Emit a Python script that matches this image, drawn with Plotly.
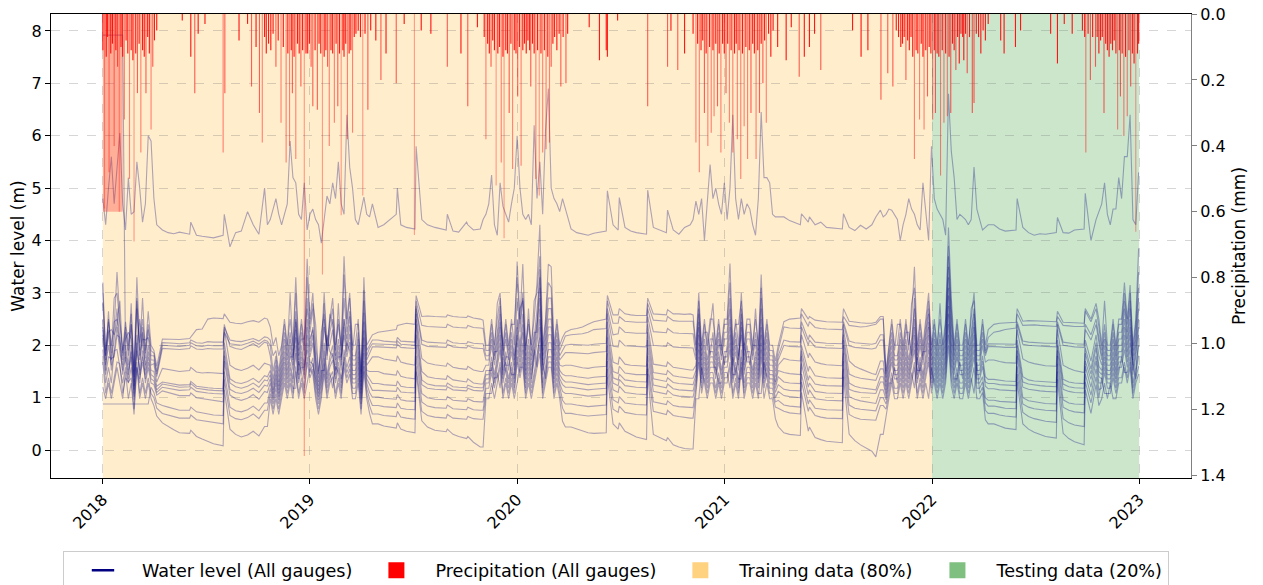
import numpy as np
import pandas as pd
import plotly.graph_objects as go

BASE_DATE = pd.Timestamp("2018-01-01")
SPLIT_DATE = pd.Timestamp("2022-01-01")
END_DATE = pd.Timestamp("2023-01-01")
YEAR_TICKS = [2018, 2019, 2020, 2021, 2022, 2023]
WL_TICKS = [0, 1, 2, 3, 4, 5, 6, 7, 8]
P_TICKS = [0.0, 0.2, 0.4, 0.6, 0.8, 1.0, 1.2, 1.4]

# Sample days (after BASE_DATE) of the gauge records, one list per season:
# wet seasons every 5 days, dry seasons every ~10 days plus the day before each event.
SEGMENT_DAYS = [
    list(range(0, 96, 5)),
    [105, 115, 125, 135, 153, 155, 165, 175, 185, 195, 212, 214, 224, 234, 244, 255, 265, 275, 285],
    list(range(290, 476, 5)),
    [485, 495, 517, 519, 525, 535, 550, 552, 562, 572, 585, 605, 607, 617, 627, 641, 643, 653, 665],
    list(range(670, 816, 5)),
    [825, 835, 845, 855, 865, 887, 889, 899, 908, 910, 920, 930, 940, 958, 960, 970, 993, 995, 1005, 1015, 1025, 1035],
    list(range(1040, 1191, 5)),
    [1200, 1210, 1229, 1231, 1243, 1245, 1255, 1265, 1275, 1303, 1305, 1315, 1325, 1335, 1345, 1355, 1362, 1370],
    list(range(1375, 1561, 5)),
    [1570, 1580, 1590, 1609, 1611, 1621, 1631, 1641, 1651, 1661, 1680, 1682, 1692, 1702, 1712, 1729, 1731, 1741, 1750],
    list(range(1755, 1826, 5)),
]

# Water level per gauge, in cm, one list per season above.
G01 = [
    [320,180,250,200,235,340,250,190,245,200,260,150,330,205,250,190,265,200,190,160],
    [212,212,211,211,213,216,230,231,250,252,251,260,244,242,241,245,247,244,252],
    [250,235,200,215,180,200,250,200,250,200,330,200,250,200,365,250,300,200,150,200,300,200,250,290,200,250,200,370,250,300,200,200,250,150,330,200,210,220],
    [225,227,230,238,240,242,240,295,255,256,255,254,258,255,254,253,256,252,250],
    [248,200,200,250,200,250,290,200,250,200,250,200,360,250,355,200,250,200,250,320,430,200,250,355,350,200,250,200,215,225],
    [230,232,235,240,245,250,295,258,258,270,260,258,257,257,290,260,258,268,260,260,259,260],
    [258,200,300,200,250,200,250,250,200,250,200,250,250,356,200,250,200,300,200,250,250,200,250,200,335,200,250,200,200,170,200],
    [245,250,252,270,250,255,248,246,245,244,270,246,244,243,242,242,244,255],
    [255,150,200,250,200,200,250,200,250,200,250,350,200,250,200,250,300,200,250,200,250,200,250,425,290,200,250,200,200,250,200,250,300,200,200,250,200,230],
    [240,242,243,244,270,246,247,247,246,246,245,265,244,243,243,242,270,250,280],
    [250,200,285,200,200,250,200,250,250,320,250,315,200,250,385],
]
G02 = [
    [300,190,245,185,290,300,240,185,235,190,240,145,290,190,290,185,240,190,185,150],
    [205,205,204,203,205,210,205,204,207,206,206,235,210,208,207,210,213,208,216],
    [215,210,180,190,150,190,240,190,300,190,300,190,240,190,330,240,280,240,145,190,280,190,240,270,190,240,190,335,240,290,190,240,240,145,305,190,200,210],
    [210,208,206,215,208,207,206,285,238,236,235,234,240,235,234,233,238,234,233],
    [232,190,190,240,190,280,300,190,240,190,240,240,330,240,300,190,240,190,285,300,370,190,240,320,310,190,240,190,205,218],
    [220,221,222,225,230,232,285,242,242,255,246,245,244,244,280,248,246,255,247,246,246,246],
    [246,190,285,190,240,190,240,280,190,240,190,240,240,320,190,240,240,285,190,240,240,190,270,190,310,190,240,190,190,160,190],
    [235,233,232,260,236,245,234,232,231,230,255,238,236,235,236,238,240,250],
    [250,145,190,240,190,240,240,190,240,190,280,310,190,240,190,240,285,190,240,190,280,190,240,390,270,190,240,190,190,240,190,270,285,190,190,240,190,215],
    [225,227,230,233,260,238,239,239,238,237,236,255,238,237,236,236,265,245,270],
    [235,190,240,190,190,240,190,240,240,300,240,300,190,240,340],
]
G03 = [
    [280,180,225,230,220,240,285,180,225,180,280,140,285,180,225,175,230,180,180,145],
    [200,199,199,198,200,205,199,198,200,199,199,225,203,201,200,204,208,202,210],
    [208,200,150,180,140,180,225,180,225,180,250,180,225,180,290,225,270,180,138,225,260,180,225,250,180,280,180,290,225,265,180,180,225,138,285,180,195,203],
    [203,202,201,208,202,201,200,275,210,206,205,204,210,205,204,203,207,204,203],
    [203,180,180,225,180,225,275,180,225,180,225,180,290,225,290,180,270,180,225,225,345,180,225,290,290,180,225,180,190,200],
    [202,201,200,200,202,204,270,220,222,235,225,224,223,223,270,226,224,232,224,223,223,223],
    [222,180,270,180,225,225,180,225,180,225,180,225,225,290,180,225,180,270,180,225,225,180,225,180,290,180,225,180,180,150,180],
    [210,207,206,245,210,220,206,205,204,203,245,208,205,204,203,202,204,220],
    [220,138,180,225,180,180,225,180,225,225,180,290,180,225,180,225,270,180,225,180,225,180,225,370,255,180,225,180,180,225,180,225,270,180,180,225,185,203],
    [203,202,202,202,245,208,206,205,205,204,204,245,206,204,203,202,240,220,250],
    [215,180,225,180,180,225,180,225,225,285,225,285,180,225,310],
]
G04 = [
    [230,172,265,172,212,270,212,172,212,225,212,130,270,172,212,210,215,172,172,140],
    [194,193,193,192,194,199,193,192,194,193,193,240,198,194,192,197,203,196,206],
    [204,180,135,172,130,172,212,172,212,172,265,172,212,212,270,212,230,172,130,172,250,172,260,240,172,212,172,250,212,255,172,172,212,130,262,172,185,197],
    [197,196,195,202,196,195,194,270,202,198,197,196,202,197,196,195,199,195,194],
    [194,172,172,212,172,212,260,172,212,172,212,172,212,270,285,172,212,172,212,268,330,172,212,270,270,172,212,172,180,186],
    [186,185,184,184,186,188,260,198,197,210,199,198,198,197,255,200,198,205,197,196,196,195],
    [195,172,260,172,212,172,212,212,172,212,172,212,212,270,172,212,172,260,172,212,212,172,212,172,270,172,212,172,172,140,172],
    [200,198,197,235,200,210,197,196,195,194,240,199,196,195,194,193,195,210],
    [210,130,172,212,172,172,212,172,212,172,212,270,172,212,172,212,260,172,212,172,212,172,212,350,242,172,212,172,172,212,172,212,260,172,172,212,180,198],
    [198,197,196,196,240,202,200,199,198,198,197,240,200,198,197,196,230,210,240],
    [205,172,212,172,172,212,172,212,212,270,212,270,172,212,290],
]
G05 = [
    [250,162,200,162,245,250,200,162,200,162,240,122,200,250,200,162,200,162,165,130],
    [156,154,152,150,152,158,149,147,148,147,146,230,162,155,152,156,162,153,166],
    [164,162,125,162,122,162,200,162,200,162,245,162,200,162,250,200,235,162,122,162,235,200,200,230,162,200,162,250,200,238,162,162,200,122,245,162,170,178],
    [178,174,170,180,168,165,162,260,175,166,163,160,166,158,156,154,160,153,150],
    [150,162,162,200,162,200,245,200,162,162,200,162,250,200,260,162,200,162,200,245,310,162,200,250,250,162,200,162,160,162],
    [162,159,157,156,158,160,245,168,164,178,164,162,161,160,240,164,160,168,158,156,155,153],
    [153,162,245,162,200,162,200,200,162,200,200,162,200,250,162,200,162,245,162,200,162,200,200,162,250,162,200,162,162,130,162],
    [175,172,170,220,176,185,168,165,163,161,230,170,160,155,150,146,144,170],
    [170,122,162,200,162,162,200,162,200,162,200,250,162,200,162,200,245,162,200,162,200,162,200,330,222,162,200,162,162,200,162,200,245,162,162,200,168,172],
    [172,169,167,166,230,174,168,165,163,161,160,230,162,156,152,148,210,170,220],
    [180,162,200,162,162,200,162,200,200,250,200,250,162,200,270],
]
G06 = [
    [235,152,230,152,188,235,188,152,188,152,188,115,190,152,235,152,188,152,150,122],
    [130,128,126,124,125,131,122,120,119,118,117,205,136,129,127,131,137,129,142],
    [140,152,115,152,115,152,188,152,188,152,230,152,188,152,235,188,220,152,115,152,152,220,188,180,152,188,152,235,188,222,152,152,188,115,228,152,150,150],
    [150,146,143,152,141,138,136,250,150,140,137,135,142,134,132,130,136,128,126],
    [126,152,152,152,188,188,235,152,188,152,188,152,235,188,240,152,188,152,188,235,290,152,188,235,235,152,188,152,145,142],
    [142,140,138,137,139,141,230,150,146,160,147,145,144,144,225,148,144,152,142,140,138,137],
    [137,152,235,152,188,152,188,188,152,188,152,188,188,235,152,188,152,235,152,188,188,152,188,152,235,152,188,152,152,125,152],
    [148,146,144,200,150,160,142,140,138,137,220,145,140,137,135,134,133,155],
    [155,115,152,188,152,152,188,152,188,152,188,235,152,152,188,188,235,152,188,152,188,152,188,310,205,152,188,152,152,188,152,188,235,152,152,180,140,135],
    [135,133,132,131,210,140,134,132,131,130,129,210,135,130,128,127,195,155,205],
    [160,152,188,152,152,188,152,188,188,235,188,235,152,188,250],
]
G07 = [
    [220,144,178,175,178,220,215,144,178,144,178,108,220,144,178,144,178,144,140,115],
    [126,124,122,120,121,127,118,116,115,114,113,190,128,121,118,122,128,120,134],
    [132,144,108,144,108,144,178,144,178,178,215,144,178,144,220,178,205,144,108,144,205,144,178,200,144,178,178,220,178,206,144,144,178,108,215,144,135,127],
    [127,125,123,132,122,120,119,240,134,126,123,122,128,121,120,119,124,120,119],
    [119,144,144,178,144,178,220,144,178,178,144,144,220,178,225,144,178,144,178,220,270,144,178,220,220,144,178,144,135,130],
    [130,128,126,125,126,128,215,138,134,145,134,132,131,130,210,136,131,138,129,127,126,125],
    [125,144,220,144,178,144,178,178,144,178,144,178,178,220,144,144,178,220,144,178,178,144,178,144,220,144,178,144,144,118,140],
    [130,128,127,190,133,142,126,124,123,122,210,128,122,119,117,116,115,140],
    [140,108,144,178,144,144,178,144,178,144,178,220,144,178,144,178,220,144,178,144,178,144,178,295,190,144,178,144,144,178,144,178,220,144,144,170,130,127],
    [127,125,124,123,200,130,126,124,123,122,121,200,126,121,119,118,185,145,195],
    [150,144,178,144,144,178,144,178,178,220,178,220,144,178,235],
]
G08 = [
    [792,792,792,792,792,792,792,792,168,136,200,102,205,136,168,136,168,136,132,110],
    [120,118,116,114,115,120,112,110,109,108,107,180,116,110,108,112,118,110,124],
    [122,136,102,136,102,136,168,136,168,136,200,136,168,136,205,168,165,136,102,136,190,136,168,185,136,168,136,168,205,190,136,136,168,102,200,136,125,114],
    [114,113,112,120,111,110,109,220,125,118,116,115,121,115,114,113,118,114,113],
    [113,136,136,168,136,168,205,136,168,136,168,136,205,168,205,136,168,136,168,205,250,168,136,205,205,136,168,136,125,120],
    [120,118,116,115,116,118,200,128,123,135,123,121,120,119,195,124,119,126,117,115,114,113],
    [113,136,205,136,168,136,168,168,136,168,136,168,168,205,136,168,136,136,205,168,168,136,168,136,205,136,168,136,136,110,125],
    [116,114,113,180,120,128,112,110,109,108,200,116,112,110,109,108,108,130],
    [130,102,136,168,136,136,168,136,168,136,168,205,136,168,136,168,205,136,168,136,168,136,168,275,175,136,136,168,136,168,136,168,205,136,136,160,122,117],
    [117,115,114,113,190,120,116,114,113,112,111,190,116,112,110,109,170,135,180],
    [140,136,168,136,136,168,136,168,168,205,168,205,168,136,220],
]
G09 = [
    [192,128,158,128,190,192,158,128,158,128,158,96,158,128,190,128,158,128,125,105],
    [113,110,107,104,104,109,100,98,96,94,92,170,105,98,95,99,106,97,112],
    [110,128,96,128,96,128,158,128,158,128,185,128,158,158,192,158,176,128,96,128,176,128,158,172,128,158,128,192,158,178,128,128,158,96,185,128,110,101],
    [101,99,97,106,96,94,93,200,108,100,97,96,102,95,94,93,98,93,92],
    [92,128,128,158,128,158,192,128,158,128,158,128,192,158,192,128,158,128,192,158,235,128,158,192,192,128,158,128,112,108],
    [108,106,104,103,104,106,185,115,110,122,110,108,107,106,180,112,107,114,105,103,102,101],
    [101,128,192,128,158,128,158,158,158,128,128,158,158,192,128,158,128,192,128,158,158,128,158,128,192,128,158,128,128,100,112],
    [104,102,100,165,106,115,98,96,95,94,185,102,97,94,92,90,89,115],
    [115,96,128,128,158,128,158,128,158,128,158,192,128,158,128,158,192,128,158,128,158,128,158,260,162,128,158,128,128,158,128,158,192,128,128,140,100,95],
    [95,93,92,91,180,100,94,92,90,89,88,180,96,90,88,87,160,120,170],
    [128,128,158,128,128,158,128,158,158,192,158,192,128,158,200],
]
G10 = [
    [88,88,88,88,88,88,88,88,88,88,88,88,88,88,88,88,88,120,110,90],
    [85,82,79,76,76,82,73,71,69,67,66,150,82,75,73,77,84,75,90],
    [90,118,88,118,88,118,148,118,148,118,118,170,148,118,178,148,165,118,88,118,165,118,148,118,160,148,118,178,148,165,118,118,148,88,170,118,98,85],
    [85,83,81,90,80,78,77,180,92,84,81,80,86,79,78,77,82,77,76],
    [76,118,118,148,118,148,118,178,148,118,148,118,178,148,178,118,148,118,148,178,215,118,148,178,178,118,148,118,95,88],
    [88,86,84,83,84,86,170,96,90,102,90,88,87,86,165,92,87,94,85,83,82,81],
    [81,118,178,118,148,118,148,148,118,148,118,148,148,118,178,148,118,178,118,148,148,118,148,118,178,118,148,118,118,92,95],
    [86,84,82,145,88,96,80,78,77,76,170,86,80,78,77,76,75,100],
    [100,88,118,148,118,118,148,118,148,118,148,118,178,148,118,148,178,118,148,118,148,118,148,240,148,118,148,118,118,148,118,148,178,118,118,130,90,84],
    [84,82,80,79,160,88,82,79,77,76,75,165,82,76,73,71,145,105,155],
    [115,118,148,118,118,148,118,148,178,148,148,178,118,148,180],
]
G11 = [
    [168,108,138,108,138,168,165,108,138,130,138,78,168,108,138,108,138,108,100,80],
    [70,67,64,61,61,67,58,56,54,52,50,135,66,60,58,62,69,60,76],
    [76,108,78,108,78,108,138,108,138,108,160,108,138,108,168,138,155,108,78,108,155,108,138,150,108,138,108,168,138,155,108,108,138,78,160,108,85,69],
    [69,66,64,74,63,61,59,160,74,66,63,61,68,61,60,59,64,60,59],
    [59,108,108,108,138,138,168,108,138,108,138,108,168,138,168,108,138,108,138,168,200,108,138,168,168,108,138,108,80,70],
    [70,68,66,65,66,68,155,78,72,84,72,70,68,67,155,74,68,76,66,64,62,61],
    [61,108,168,108,138,108,138,138,108,138,108,138,138,168,108,138,108,168,108,138,138,108,138,108,108,168,138,108,108,82,80],
    [74,71,69,130,74,82,66,63,61,60,155,68,62,59,58,57,57,85],
    [85,78,108,138,108,108,138,108,138,108,138,168,108,138,108,138,168,108,138,108,138,108,138,220,135,108,138,108,108,138,108,138,108,168,108,120,76,70],
    [70,67,65,63,145,72,64,60,57,55,53,150,60,52,48,45,130,90,140],
    [100,138,108,108,108,138,108,138,138,168,138,168,108,138,160],
]
G12 = [
    [120,98,128,98,128,158,128,98,150,98,128,68,158,98,128,98,128,98,85,65],
    [52,45,39,33,32,38,26,21,17,12,8,115,40,30,25,29,36,27,45],
    [45,98,68,98,68,98,128,98,128,98,150,98,128,98,128,158,145,98,68,98,145,98,128,140,98,128,98,158,128,145,98,98,128,68,150,98,70,50],
    [50,46,42,52,40,36,33,150,56,44,38,35,40,30,26,22,26,15,6],
    [6,98,98,128,98,128,158,98,128,98,128,98,128,158,158,98,128,98,128,158,185,98,128,158,158,98,128,98,55,44],
    [44,40,36,33,32,33,140,50,40,52,36,30,25,20,145,30,18,24,10,6,3,2],
    [2,98,98,158,128,98,128,128,98,128,98,128,128,158,98,128,98,158,98,128,128,98,128,98,158,98,128,98,98,60,45],
    [33,30,28,110,36,44,24,20,17,14,140,30,18,10,4,-2,-13,30],
    [30,68,98,128,98,98,128,98,128,98,128,158,98,128,98,128,98,158,128,98,128,98,128,200,122,98,128,98,98,128,98,128,158,98,98,110,58,50],
    [50,46,42,39,130,50,40,34,30,26,23,135,32,22,16,10,115,70,125],
    [85,98,128,98,128,98,98,128,128,158,128,158,98,128,145],
]
G13 = [
    [480,430,500,560,470,545,605,470,420,520,450,455,550,500,435,470,600,590,480,430],
    [420,415,413,416,412,435,410,408,406,405,410,450,388,415,418,455,430,412,500],
    [430,440,460,480,450,430,450,470,590,520,510,450,440,510,420,450,460,440,430,395,440,485,470,510,480,550,470,450,640,540,500,440,430,460,483,450,445,470],
    [425,430,450,500,430,425,422,580,440,430,425,420,450,418,416,435,430,420,422],
    [440,450,470,525,430,410,510,465,450,435,470,500,600,500,450,440,450,430,620,480,550,450,610,690,500,480,470,455,480,460],
    [422,415,412,410,414,418,495,430,420,482,425,418,415,412,496,425,415,458,420,412,425,430],
    [440,475,450,480,400,470,545,480,500,470,450,510,440,500,640,480,440,480,450,470,460,430,410,480,645,520,520,510,450,445,445],
    [445,438,430,451,435,445,430,435,425,422,451,425,419,429,422,430,445,458],
    [445,450,460,458,450,440,400,430,450,480,460,450,430,420,510,450,400,580,480,460,450,440,410,680,570,520,440,450,445,440,430,440,540,460,440,420,425,430],
    [430,422,418,420,480,425,415,410,413,412,415,444,415,414,420,422,490,400,440],
    [455,470,510,450,430,460,460,520,480,560,560,640,440,430,530],
]
GAUGES = [G01, G02, G03, G04, G05, G06, G07, G08, G09, G10, G11, G12, G13]

# Precipitation: (day after BASE_DATE, mm x 100)
PRECIP_EVENTS = [
    (0,11),(3,59),(6,13),(8,7),(11,48),(14,12),(17,9),(20,40),(23,11),(26,16),(29,60),(32,10),(35,13),(38,32),(41,8),(44,12),(47,50),(50,11),(53,14),(55,69),(58,12),(61,24),(64,9),(67,42),(70,11),(73,13),(76,24),(79,7),(82,12),(85,35),(88,16),(91,8),(95,5),
    (140,2),(155,13),(162,24),(168,6),(180,3),(212,42),(215,24),(240,8),(255,3),(262,22),(270,10),
    (276,30),(281,39),(285,7),(288,12),(292,9),(296,11),(300,6),(305,16),(309,8),(314,33),(318,10),(323,45),(326,12),(329,40),(332,11),(334,24),(337,13),(340,44),(343,9),(346,12),(349,22),(352,11),(355,134),(358,12),(361,12),(364,9),(367,16),(370,28),(374,11),(378,29),(381,9),(384,12),(387,79),(390,13),(393,11),(396,16),(399,40),(402,11),(405,12),(408,33),(411,9),(414,28),(417,12),(420,61),(423,11),(425,13),(428,9),(431,38),(434,12),(437,11),(440,36),(443,7),(446,6),(450,5),(454,7),(458,55),(462,6),(467,29),(472,5),
    (481,8),(490,20),(499,12),(517,21),(531,3),(549,67),(561,5),(578,6),(607,16),(631,12),(643,28),(660,4),
    (672,7),(675,38),(678,9),(681,12),(684,16),(687,8),(690,11),(693,52),(696,12),(699,10),(702,45),(705,13),(707,68),(710,11),(713,12),(716,30),(719,9),(722,47),(725,11),(728,12),(731,25),(734,10),(737,46),(740,11),(743,9),(746,12),(749,8),(752,11),(754,22),(757,9),(760,12),(763,50),(766,11),(769,55),(772,12),(775,42),(778,11),(781,41),(784,13),(787,39),(790,16),(793,9),(796,7),(800,11),(804,6),(807,22),(811,7),(816,21),(819,6),
    (857,4),(875,14),(887,11),(889,13),(907,2),(960,28),(995,16),(1001,5),(1013,17),(1025,12),
    (1040,6),(1045,39),(1048,9),(1051,48),(1054,11),(1057,8),(1060,30),(1063,12),(1066,40),(1069,10),(1072,36),(1075,11),(1077,31),(1080,9),(1083,28),(1086,12),(1089,42),(1092,9),(1095,12),(1098,24),(1101,9),(1104,33),(1107,11),(1110,42),(1113,12),(1116,9),(1118,38),(1121,11),(1124,50),(1127,12),(1130,34),(1133,10),(1136,44),(1139,11),(1142,30),(1145,9),(1148,12),(1151,44),(1154,11),(1157,30),(1160,9),(1163,21),(1166,8),(1169,33),(1173,6),(1177,13),(1181,5),
    (1189,10),(1204,14),(1213,4),(1227,19),(1236,13),(1245,10),(1254,6),(1265,17),(1321,5),(1336,13),(1348,11),(1371,26),(1383,18),(1392,22),
    (1398,5),(1402,7),(1406,10),(1409,9),(1412,7),(1415,20),(1418,8),(1421,11),(1424,7),(1427,13),(1430,44),(1433,11),(1436,12),(1439,32),(1442,9),(1445,13),(1447,35),(1450,11),(1453,25),(1456,10),(1459,12),(1462,32),(1465,11),(1467,30),(1470,12),(1473,13),(1476,49),(1479,11),(1482,33),(1485,12),(1488,31),(1491,13),(1494,30),(1497,9),(1500,11),(1503,17),(1506,7),(1509,15),(1512,6),(1515,7),(1517,14),(1520,6),(1523,18),(1527,7),(1532,30),(1535,27),(1539,6),(1543,7),(1547,12),(1551,5),(1555,8),(1560,3),
    (1582,8),(1588,12),(1608,10),(1617,5),(1670,6),(1682,15),(1694,3),(1708,6),
    (1726,5),(1730,7),(1732,42),(1736,6),(1740,20),(1744,7),(1749,16),(1752,7),(1755,12),(1758,8),(1761,7),(1764,30),(1767,9),(1770,11),(1773,13),(1776,9),(1779,11),(1782,8),(1785,12),(1788,35),(1791,11),(1793,25),(1796,12),(1799,37),(1802,13),(1805,31),(1808,11),(1811,22),(1814,12),(1817,15),(1820,66),(1823,12),(1825,9),
]
# One gauge reports a constant 0.60 mm over the first 35 days.
PRECIP_FLAT_DAYS = (0, 35)
PRECIP_FLAT_MM = 0.60

DAY_MS = 86400000


def gauge_series(season_values):
    xs, ys = [], []
    for days, vals in zip(SEGMENT_DAYS, season_values):
        n = min(len(days), len(vals))
        xs.extend(BASE_DATE + pd.to_timedelta(days[:n], unit="D"))
        ys.extend(np.asarray(vals[:n], dtype=float) / 100.0)
    return xs, ys


def precip_colour(v):
    if v <= 0.15:
        return "rgba(255,0,0,0.9)"
    if v <= 0.3:
        return "rgba(255,0,0,0.6)"
    if v <= 0.5:
        return "rgba(255,0,0,0.45)"
    return "rgba(255,0,0,0.35)"


fig = go.Figure()

# training / testing periods as background bands
fig.add_shape(type="rect", xref="x", yref="paper", x0=BASE_DATE, x1=SPLIT_DATE, y0=0, y1=1,
              fillcolor="rgba(255,165,0,0.2)", line_width=0, layer="below")
fig.add_shape(type="rect", xref="x", yref="paper", x0=SPLIT_DATE, x1=END_DATE, y0=0, y1=1,
              fillcolor="rgba(0,128,0,0.2)", line_width=0, layer="below")

all_y = []
for g in GAUGES:
    xs, ys = gauge_series(g)
    all_y.extend(ys)
    fig.add_trace(go.Scatter(x=xs, y=ys, mode="lines", showlegend=False, hoverinfo="skip",
                             line=dict(color="rgba(0,0,128,0.32)", width=1.1)))

p_days = [d for d, _ in PRECIP_EVENTS]
p_mm = [v / 100.0 for _, v in PRECIP_EVENTS]
p_x = BASE_DATE + pd.to_timedelta(p_days, unit="D")

flat_span = PRECIP_FLAT_DAYS[1] - PRECIP_FLAT_DAYS[0]
fig.add_trace(go.Bar(x=[BASE_DATE + pd.Timedelta(days=PRECIP_FLAT_DAYS[0] + flat_span / 2)],
                     y=[PRECIP_FLAT_MM], width=[flat_span * DAY_MS], yaxis="y2",
                     marker=dict(color="rgba(255,0,0,0.26)", line=dict(width=0)),
                     showlegend=False, hoverinfo="skip"))
fig.add_trace(go.Bar(x=p_x, y=p_mm, width=[2.0 * DAY_MS] * len(p_mm), yaxis="y2",
                     marker=dict(color=[precip_colour(v) for v in p_mm], line=dict(width=0)),
                     showlegend=False, hoverinfo="skip"))

# legend entries
fig.add_trace(go.Scatter(x=[None], y=[None], mode="markers", name="Water level (All gauges)",
                         marker=dict(symbol="line-ew", size=36, color="navy",
                                     line=dict(color="navy", width=2.5))))
fig.add_trace(go.Scatter(x=[None], y=[None], mode="markers", name="Precipitation (All gauges)",
                         marker=dict(symbol="square", size=17, color="red")))
fig.add_trace(go.Scatter(x=[None], y=[None], mode="markers", name="Training data (80%)",
                         marker=dict(symbol="square", size=17, color="rgba(255,165,0,0.5)")))
fig.add_trace(go.Scatter(x=[None], y=[None], mode="markers", name="Testing data (20%)",
                         marker=dict(symbol="square", size=17, color="rgba(0,128,0,0.5)")))

ymin, ymax = min(all_y), max(all_y)
ypad = 0.05 * (ymax - ymin)
xpad = (END_DATE - BASE_DATE) * 0.05
pmax = max(p_mm)

grid = "rgba(120,120,120,0.3)"
fig.update_layout(
    width=1263, height=585,
    margin=dict(l=51, r=72, t=14, b=107, autoexpand=False),
    paper_bgcolor="white", plot_bgcolor="white",
    font=dict(family="DejaVu Sans", size=16, color="black"),
    barmode="overlay",
    legend=dict(orientation="h", x=0.4956, xanchor="center", y=-0.158, yanchor="top",
                bordercolor="#cccccc", borderwidth=1, bgcolor="white",
                font=dict(size=17.6), traceorder="normal", itemwidth=68),
    xaxis=dict(type="date", range=[BASE_DATE - xpad, END_DATE + xpad],
               tickvals=[pd.Timestamp(f"{y}-01-01") for y in YEAR_TICKS],
               ticktext=[str(y) for y in YEAR_TICKS], tickangle=-45,
               showgrid=True, gridcolor=grid, griddash="dash", gridwidth=1,
               showline=True, linecolor="black", linewidth=1, mirror=True,
               ticks="outside", ticklen=5, tickcolor="black", zeroline=False),
    yaxis=dict(range=[ymin - ypad, ymax + ypad], tickvals=WL_TICKS,
               showgrid=True, gridcolor=grid, griddash="dash", gridwidth=1,
               showline=True, linecolor="black", linewidth=1,
               ticks="outside", ticklen=5, tickcolor="black", zeroline=False,
               title=dict(text="Water level (m)", font=dict(size=17), standoff=2)),
    yaxis2=dict(overlaying="y", side="right", range=[pmax * 1.05, 0], tickvals=P_TICKS,
                tickformat=".1f", showgrid=False, showline=True, linecolor="gray", linewidth=1,
                ticks="outside", ticklen=5, tickcolor="gray", zeroline=False,
                title=dict(text="Precipitation (mm)", font=dict(size=17), standoff=8)),
)

fig.write_html("out.html")
